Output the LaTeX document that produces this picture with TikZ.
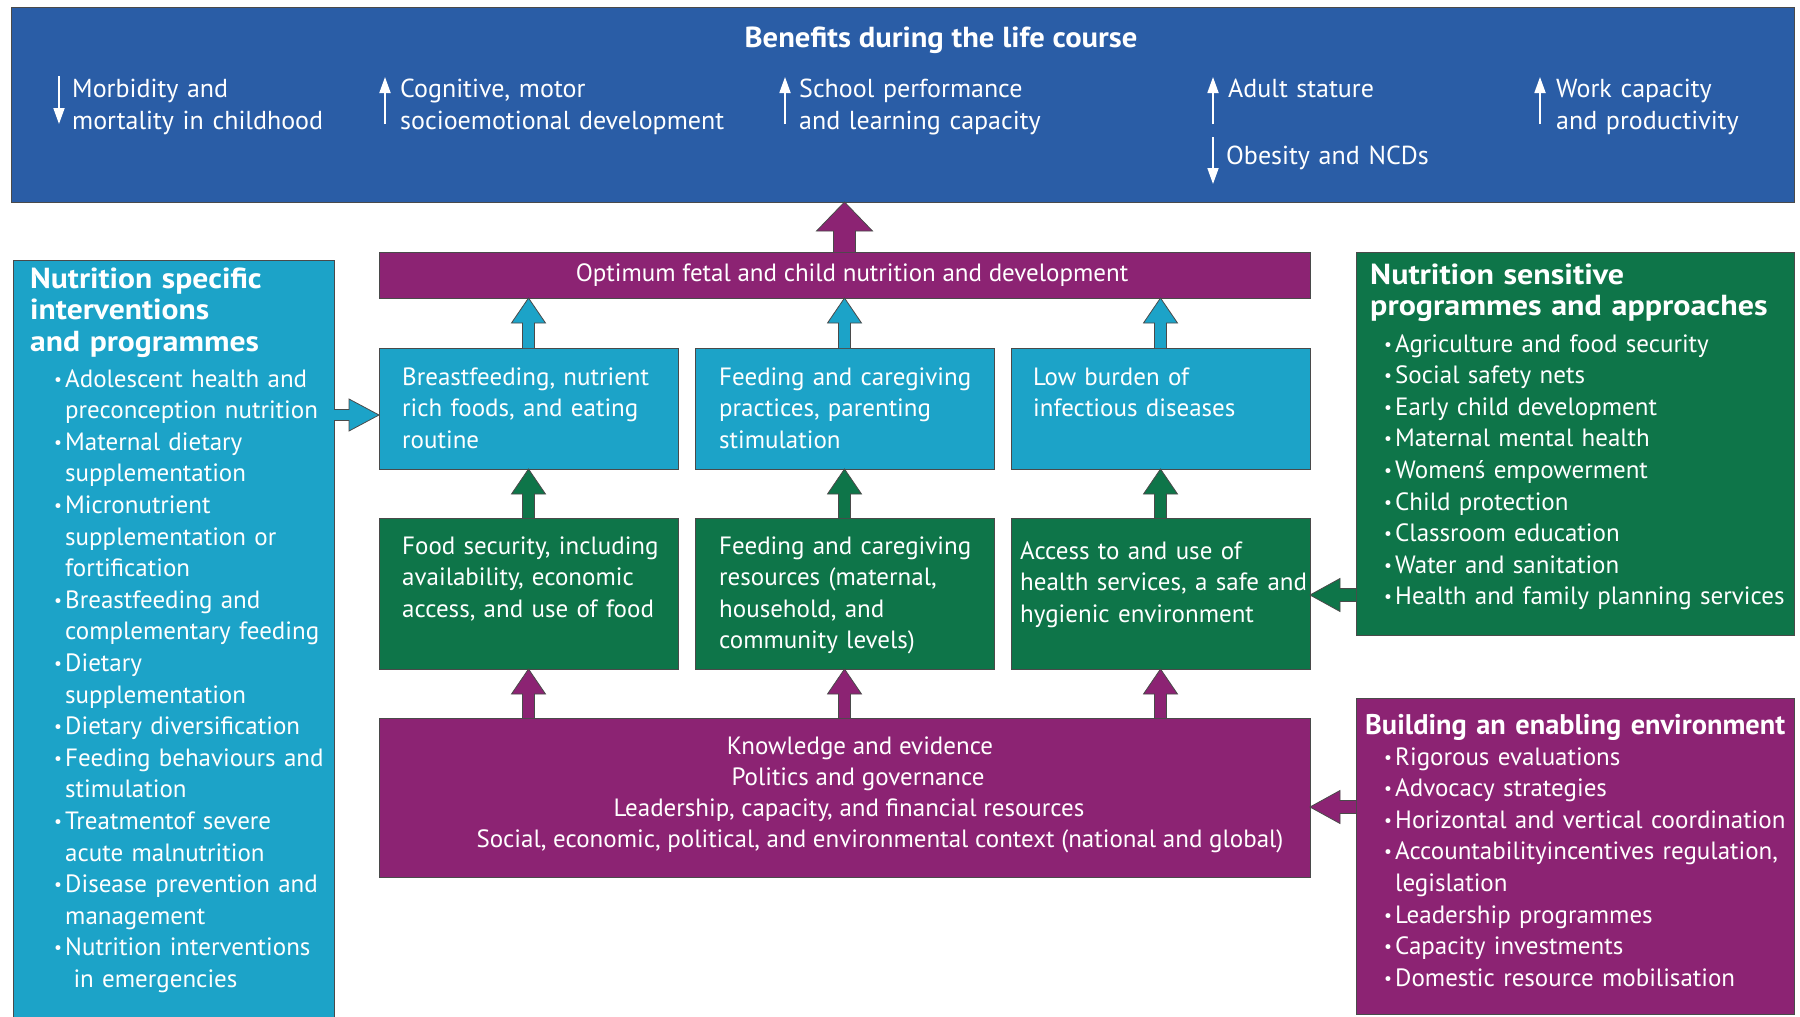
\documentclass[tikz,border=0pt]{standalone}
\usepackage{fontspec}
\setmainfont{PT Sans}
\newfontfamily\widefam[FakeStretch=1.09]{PT Sans}
\newfontfamily\widerfam[FakeStretch=1.105]{PT Sans}
\newfontfamily\topfam[FakeStretch=1.056]{PT Sans}
\usetikzlibrary{calc,arrows.meta}
\definecolor{topblue}{HTML}{2A5DA6}
\definecolor{nutcyan}{HTML}{1CA3C8}
\definecolor{nutgreen}{HTML}{0E7549}
\definecolor{nutpurple}{HTML}{8C2373}
\definecolor{edgegray}{HTML}{4A4A4A}
\newcommand\bodyfont{\fontsize{25}{31.6}\selectfont}
\newcommand\topfont{\fontsize{26}{32.5}\selectfont}
\newcommand\ltitlefont{\widefam\fontsize{29}{31.5}\selectfont\bfseries}
\newcommand\rtitlefont{\widerfam\fontsize{29}{31.5}\selectfont\bfseries}
\newcommand\ttitlefont{\topfam\fontsize{29}{31.5}\selectfont\bfseries}
\newcommand\ptitlefont{\fontsize{28.4}{31.5}\selectfont\bfseries}
\newcommand\bl{\makebox[11pt][l]{\raisebox{2pt}{\scalebox{0.7}{•}}}}
\newcommand\ind{\hspace*{11pt}}
% vertical block arrow: #1 source, #2 target, #3 half shaft, #4 half head, #5 signed head length, #6 colour
\newcommand\blockv[6]{%
  \filldraw[fill=#6, draw=edgegray, line width=0.8pt, line join=miter]
    ($(#1)+(-#3,0)$) -- ($(#1 |- #2)+(-#3,#5)$) -- ($(#1 |- #2)+(-#4,#5)$) --
    (#1 |- #2) -- ($(#1 |- #2)+(#4,#5)$) -- ($(#1 |- #2)+(#3,#5)$) -- ($(#1)+(#3,0)$);}
% horizontal block arrow
\newcommand\blockh[6]{%
  \filldraw[fill=#6, draw=edgegray, line width=0.8pt, line join=miter]
    ($(#1)+(0,-#3)$) -- ($(#1 -| #2)+(#5,-#3)$) -- ($(#1 -| #2)+(#5,-#4)$) --
    (#1 -| #2) -- ($(#1 -| #2)+(#5,#4)$) -- ($(#1 -| #2)+(#5,#3)$) -- ($(#1)+(0,#3)$);}
\begin{document}
\begin{tikzpicture}[x=1pt,y=-1pt,
  panel/.style={draw=edgegray, line width=1pt, anchor=north west, inner sep=0pt, outer sep=0pt},
  txt/.style={text=white, anchor=base west, inner sep=0pt, align=left, text width=#1},
  txt/.default=420pt,
  ctxt/.style={text=white, anchor=base, inner sep=0pt, align=center},
  wline/.style={draw=white, line width=1.8pt, -{Triangle[width=11pt,length=16pt]}}
]
\useasboundingbox (0,0) rectangle (1800,1017);
% ---------------- top panel
\node[panel, fill=topblue, minimum width=1783pt, minimum height=195pt] (top) at (11,7) {};
\node[ctxt, font=\ttitlefont] (toptitle) at (941,47) {Benefits during the life course};
\node[txt, font=\topfont] (b1) at (72,97) {Morbidity and\\mortality in childhood};
\node[txt, font=\topfont] (b2) at (400,97) {Cognitive, motor\\socioemotional development};
\node[txt, font=\topfont] (b3) at (799,97) {School performance\\and learning capacity};
\node[txt, font=\topfont] (b4) at (1228,97) {Adult stature};
\node[txt, font=\topfont] (b5) at (1226,164) {Obesity and NCDs};
\node[txt, font=\topfont] (b6) at (1556,97) {Work capacity\\and productivity};
\draw[wline] (59,76) -- (59,124);
\draw[wline] (385,124) -- (385,77);
\draw[wline] (785,124) -- (785,77);
\draw[wline] (1213,124) -- (1213,77);
\draw[wline] (1213,137) -- (1213,184);
\draw[wline] (1540,124) -- (1540,77);
% ---------------- left panel
\node[panel, fill=nutcyan, minimum width=321pt, minimum height=762pt] (L) at (13,260) {};
\node[txt, font=\ltitlefont] (Lt) at (30,288) {Nutrition specific\\interventions\\and programmes};
\node[txt=300pt, font=\bodyfont] (Li) at (54,387) {\bl Adolescent health and\\\ind preconception nutrition\\
\bl Maternal dietary\\\ind supplementation\\
\bl Micronutrient\\\ind supplementation or\\\ind fortification\\
\bl Breastfeeding and\\\ind complementary feeding\\
\bl Dietary\\\ind supplementation\\
\bl Dietary diversification\\
\bl Feeding behaviours and\\\ind stimulation\\
\bl Treatmentof severe\\\ind acute malnutrition\\
\bl Disease prevention and\\\ind management\\
\bl Nutrition interventions\\\ind\ in emergencies};
% ---------------- centre
\node[panel, fill=nutpurple, minimum width=931pt, minimum height=46pt] (bar) at (379,252) {};
\node[ctxt, font=\bodyfont] (bart) at (852,281) {Optimum fetal and child nutrition and development};
\node[panel, fill=nutcyan, minimum width=299pt, minimum height=121pt] (c1) at (379,348) {};
\node[panel, fill=nutcyan, minimum width=299pt, minimum height=121pt] (c2) at (695,348) {};
\node[panel, fill=nutcyan, minimum width=299pt, minimum height=121pt] (c3) at (1011,348) {};
\node[txt, font=\bodyfont] (c1t) at (402,385) {Breastfeeding, nutrient\\rich foods, and eating\\routine};
\node[txt, font=\bodyfont] (c2t) at (719,385) {Feeding and caregiving\\practices, parenting\\stimulation};
\node[txt, font=\bodyfont] (c3t) at (1033,385) {Low burden of\\infectious diseases};
\node[panel, fill=nutgreen, minimum width=299pt, minimum height=151pt] (g1) at (379,518) {};
\node[panel, fill=nutgreen, minimum width=299pt, minimum height=151pt] (g2) at (695,518) {};
\node[panel, fill=nutgreen, minimum width=299pt, minimum height=151pt] (g3) at (1011,518) {};
\node[txt, font=\bodyfont] (g1t) at (402,554) {Food security, including\\availability, economic\\access, and use of food};
\node[txt, font=\bodyfont] (g2t) at (719,554) {Feeding and caregiving\\resources (maternal,\\household, and\\community levels)};
\node[txt, font=\bodyfont] (g3t) at (1020,559) {Access to and use of\\health services, a safe and\\hygienic environment};
\node[panel, fill=nutpurple, minimum width=931pt, minimum height=159pt] (P) at (379,718) {};
\node[ctxt, font=\bodyfont] (Pt1) at (860,754) {Knowledge and evidence};
\node[ctxt, font=\bodyfont] (Pt2) at (858,785) {Politics and governance};
\node[ctxt, font=\bodyfont] (Pt3) at (849,816) {Leadership, capacity, and financial resources};
\node[ctxt, font=\bodyfont] (Pt4) at (880,847) {Social, economic, political, and environmental context (national and global)};
% ---------------- right panels
\node[panel, fill=nutgreen, minimum width=438pt, minimum height=383pt] (RG) at (1356,252) {};
\node[txt, font=\rtitlefont] (RGt) at (1370,284) {Nutrition sensitive\\programmes and approaches};
\node[txt, font=\bodyfont] (RGi) at (1384,352) {\bl Agriculture and food security\\\bl Social safety nets\\\bl Early child development\\\bl Maternal mental health\\\bl Womenś empowerment\\\bl Child protection\\\bl Classroom education\\\bl Water and sanitation\\\bl Health and family planning services};
\node[panel, fill=nutpurple, minimum width=438pt, minimum height=316pt] (RP) at (1356,698) {};
\node[txt=460pt, font=\ptitlefont] (RPt) at (1365,734) {Building an enabling environment};
\node[txt, font=\bodyfont] (RPi) at (1384,765) {\bl Rigorous evaluations\\\bl Advocacy strategies\\\bl Horizontal and vertical coordination\\\bl Accountabilityincentives regulation,\\\ind legislation\\\bl Leadership programmes\\\bl Capacity investments\\\bl Domestic resource mobilisation};
% ---------------- block arrows
\coordinate (pb) at (bar.north -| c2.north);
\blockv{pb}{top.south}{11}{28}{29}{nutpurple}
\blockv{c1.north}{bar.south}{6}{17}{25}{nutcyan}
\blockv{c2.north}{bar.south}{6}{17}{25}{nutcyan}
\blockv{c3.north}{bar.south}{6}{17}{25}{nutcyan}
\blockv{g1.north}{c1.south}{6}{17}{25}{nutgreen}
\blockv{g2.north}{c2.south}{6}{17}{25}{nutgreen}
\blockv{g3.north}{c3.south}{6}{17}{25}{nutgreen}
\coordinate (p1) at (P.north -| g1.north);
\coordinate (p2) at (P.north -| g2.north);
\coordinate (p3) at (P.north -| g3.north);
\blockv{p1}{g1.south}{6}{17}{25}{nutpurple}
\blockv{p2}{g2.south}{6}{17}{25}{nutpurple}
\blockv{p3}{g3.south}{6}{17}{25}{nutpurple}
\coordinate (ly) at (0,415);
\coordinate (la) at (L.east |- ly);
\blockh{la}{c1.west}{5.5}{16}{-30}{nutcyan}
\coordinate (ry) at (0,595);
\coordinate (ra) at (RG.west |- ry);
\blockh{ra}{g3.east}{6.5}{16.5}{30}{nutgreen}
\coordinate (py) at (0,807);
\coordinate (pa) at (RP.west |- py);
\blockh{pa}{P.east}{6.5}{16.5}{30}{nutpurple}
\end{tikzpicture}
\end{document}
